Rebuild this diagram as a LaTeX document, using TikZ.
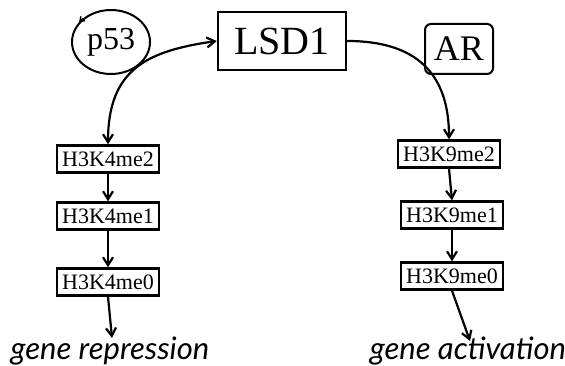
\documentclass[tikz,border=0pt]{standalone}
\usepackage{fontspec}
\setmainfont{Liberation Serif}
\newfontfamily\genefont{Lato}
\usetikzlibrary{arrows.meta,shapes.geometric}

\tikzset{
  histbox/.style={draw, line width=2.4pt, minimum width=102pt, minimum height=27pt,
    inner sep=2pt, font=\fontsize{22}{24}\selectfont},
  barb/.tip={Straight Barb[length=8pt,width=10pt,line width=2.2pt]},
  flow/.style={line width=2.2pt, -barb},
  outcome/.style={font=\genefont\itshape\fontsize{31}{33}\selectfont, anchor=base}
}

\begin{document}
\begin{tikzpicture}[x=1pt,y=-1pt]
  \useasboundingbox (0,0) rectangle (565,366);

  % top row
  \node[draw, line width=2pt, ellipse, minimum width=78pt, minimum height=64pt, inner sep=0pt,
    font=\fontsize{32}{34}\selectfont] (p53) at (111,42) {p53};
  \node[draw, line width=2.4pt, minimum width=128pt, minimum height=58pt, inner sep=0pt,
    font=\fontsize{40}{42}\selectfont] (lsd) at (282,41) {LSD1};
  \node[draw, line width=2pt, rounded corners=6pt, minimum width=68pt, minimum height=50pt,
    inner sep=0pt, font=\fontsize{36}{38}\selectfont] (ar) at (459,49) {AR};
  \draw[line width=1.4pt, -{Straight Barb[length=4pt,width=6pt]}] (p53.140) -- (p53.148);

  % methylation steps
  \foreach \lbl/\y [count=\i] in {H3K4me2/159, H3K4me1/216, H3K4me0/282}
    \node[histbox] (k4\i) at (108,\y) {\lbl};
  \foreach \lbl/\x/\y [count=\i] in {H3K9me2/449/154, H3K9me1/452/215, H3K9me0/452/276}
    \node[histbox] (k9\i) at (\x,\y) {\lbl};

  % outcomes
  \coordinate (rep) at (112,338);
  \coordinate (act) at (470,341);
  \node[outcome] (reptxt) at (110,359) {gene repression};
  \node[outcome] (acttxt) at (468,359) {gene activation};

  % demethylation arrows
  \draw[flow, barb-barb] (lsd.west) .. controls +(-70,10) and +(0,-75) .. (k41.north);
  \draw[flow] (lsd.east) .. controls +(70,0) and +(0,-65) .. (k91.north);
  \draw[flow] (k41) -- (k42);
  \draw[flow] (k42) -- (k43);
  \draw[flow] (k43.south) -- (rep);
  \draw[flow] (k91.south) -- (k92.north);
  \draw[flow] (k92) -- (k93);
  \draw[flow] (k93.south) -- (act);
\end{tikzpicture}
\end{document}
